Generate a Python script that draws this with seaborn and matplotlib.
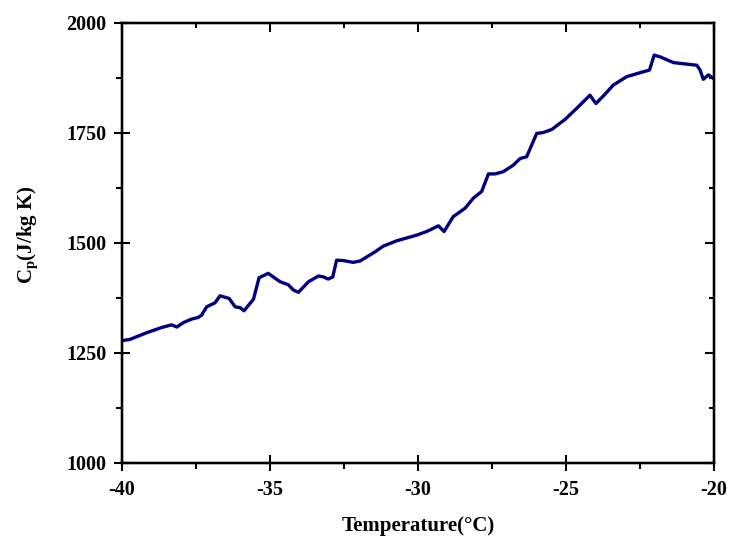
import numpy as np
import pandas as pd
import matplotlib
matplotlib.use("Agg")
import matplotlib.pyplot as plt
import seaborn as sns
from matplotlib.ticker import MultipleLocator

temperature = [-40.00, -39.73, -39.17, -38.66, -38.32, -38.15, -37.93, -37.65, -37.42, -37.31,
               -37.14, -36.86, -36.69, -36.38, -36.18, -36.01, -35.88, -35.56, -35.37, -35.06,
               -34.83, -34.66, -34.38, -34.21, -34.04, -33.70, -33.36, -33.20, -33.03, -32.88,
               -32.75, -32.52, -32.19, -31.96, -31.62, -31.45, -31.17, -30.72, -30.04, -29.71,
               -29.31, -29.12, -28.81, -28.41, -28.13, -27.85, -27.62, -27.40, -27.12, -26.78,
               -26.55, -26.33, -25.99, -25.77, -25.48, -25.03, -24.64, -24.19, -23.99, -23.74,
               -23.40, -22.95, -22.50, -22.18, -22.02, -21.82, -21.37, -20.98, -20.58, -20.47,
               -20.36, -20.19, -20.02]
cp = [1278, 1281, 1296, 1308, 1314, 1309, 1319, 1327, 1331, 1336,
      1355, 1364, 1380, 1374, 1355, 1353, 1346, 1372, 1421, 1431,
      1420, 1412, 1405, 1393, 1388, 1412, 1425, 1423, 1418, 1423,
      1461, 1460, 1456, 1459, 1473, 1480, 1493, 1505, 1518, 1526,
      1539, 1526, 1560, 1579, 1602, 1617, 1657, 1657, 1662, 1677,
      1692, 1696, 1749, 1751, 1758, 1781, 1806, 1836, 1817, 1834,
      1859, 1878, 1887, 1893, 1927, 1923, 1910, 1907, 1904, 1893,
      1872, 1882, 1874]
x_ticks = [-40, -35, -30, -25, -20]
y_ticks = [1000, 1250, 1500, 1750, 2000]

sns.set_style("ticks")
plt.rcParams['font.family'] = ['Liberation Serif', 'DejaVu Serif']
plt.rcParams['font.weight'] = 'bold'
plt.rcParams['mathtext.fontset'] = 'custom'
plt.rcParams['mathtext.rm'] = 'Liberation Serif:bold'
plt.rcParams['mathtext.bf'] = 'Liberation Serif:bold'
plt.rcParams['mathtext.it'] = 'Liberation Serif:bold'
for k in ('text.color', 'axes.labelcolor', 'xtick.color', 'ytick.color', 'axes.edgecolor'):
    plt.rcParams[k] = 'black'

df = pd.DataFrame({"Temperature": temperature, "Cp": cp})

fig = plt.figure(figsize=(7.32, 5.36), dpi=100)
ax = fig.add_axes([0.1667, 0.1362, 0.8087, 0.8209])
sns.lineplot(data=df, x="Temperature", y="Cp", ax=ax, color="#00007f", linewidth=2.4)

ax.set_xlim(-40, -20)
ax.set_ylim(1000, 2000)
ax.set_xticks(x_ticks)
ax.set_yticks(y_ticks)
ax.set_xticklabels([f"{v}" for v in x_ticks])
ax.xaxis.set_minor_locator(MultipleLocator(2.5))
ax.yaxis.set_minor_locator(MultipleLocator(125))
ax.tick_params(which='major', direction='inout', length=12, width=1.5, labelsize=14.5)
ax.tick_params(axis='x', which='major', pad=6)
ax.tick_params(axis='y', which='major', pad=5)
ax.tick_params(which='minor', direction='out', length=4, width=1.5)
for s in ax.spines.values():
    s.set_visible(True)
    s.set_linewidth(1.6)

ax.set_xlabel("Temperature(°C)", fontsize=15, fontweight='bold', labelpad=12)
ax.set_ylabel(r"C$_{\mathrm{p}}$(J/kg K)", fontsize=15, fontweight='bold', labelpad=19)
ax.yaxis.label.set_y(0.519)

axt = ax.twiny()
axt.set_xlim(ax.get_xlim())
axt.set_xticks(x_ticks)
axt.xaxis.set_minor_locator(MultipleLocator(2.5))
axt.tick_params(which='major', direction='in', length=6.5, width=1.5, labeltop=False)
axt.tick_params(which='minor', direction='in', length=3.5, width=1.5)
axr = ax.twinx()
axr.set_ylim(ax.get_ylim())
axr.set_yticks(y_ticks)
axr.yaxis.set_minor_locator(MultipleLocator(125))
axr.tick_params(which='major', direction='in', length=6.5, width=1.5, labelright=False)
axr.tick_params(which='minor', direction='in', length=3.5, width=1.5)
for a in (axt, axr):
    for s in a.spines.values():
        s.set_linewidth(1.6)

fig.savefig("out.png", dpi=100)
